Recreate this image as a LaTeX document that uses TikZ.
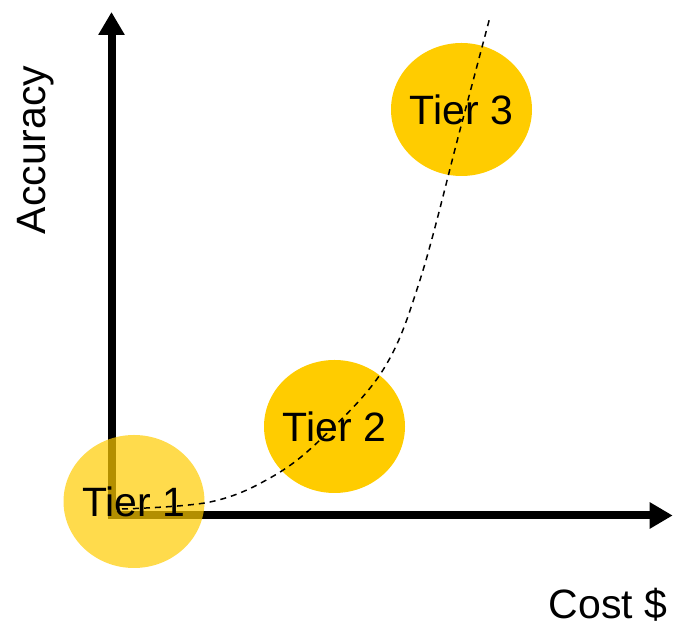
\documentclass[tikz,border=0pt]{standalone}
\usepackage{fontspec}
\setmainfont{Liberation Sans}
\usetikzlibrary{arrows.meta,shapes.geometric}
\definecolor{tiergold}{HTML}{FFCC00}
\begin{document}
\begin{tikzpicture}[x=1pt,y=1pt,
  axis/.style={line width=8pt,-{Triangle[length=23pt,width=25pt]}},
  tier/.style={ellipse,fill=tiergold,minimum width=141pt,minimum height=133pt,inner sep=0pt,font=\fontsize{41}{41}\selectfont},
  lbl/.style={font=\fontsize{41}{41}\selectfont,inner sep=0pt},
  trend/.style={line width=1.5pt,dash pattern=on 6pt off 5pt}]
\useasboundingbox (0,0) rectangle (673,626);
% axes
\coordinate (o) at (111.5,108);
\coordinate (ytip) at (111.5,614);
\coordinate (xo) at (107.5,110.5);
\coordinate (xtip) at (672.7,110.5);
\draw[axis] (o) -- (ytip);
\draw[axis] (xo) -- (xtip);
% tiers (zero-width text so the ellipse keeps its set size)
\node[tier,fill opacity=0.7,text opacity=1] (t1) at (134,124.5) {\makebox[0pt]{Tier 1}};
\node[tier] (t2) at (334.5,199.5) {\makebox[0pt]{Tier 2}};
\node[tier] (t3) at (461.5,516.5) {\makebox[0pt]{Tier 3}};
% cost/accuracy trend
\draw[trend] plot[smooth,tension=0.6] coordinates {(122,117) (210,124) (270,148) (320,186) (383,256) (420,346) (460,496) (490,609)};
% axis labels
\node[lbl,rotate=90] (acc) at (36,476) {Accuracy};
\node[lbl,anchor=base] (cost) at (608,7.5) {Cost \$};
\end{tikzpicture}
\end{document}
